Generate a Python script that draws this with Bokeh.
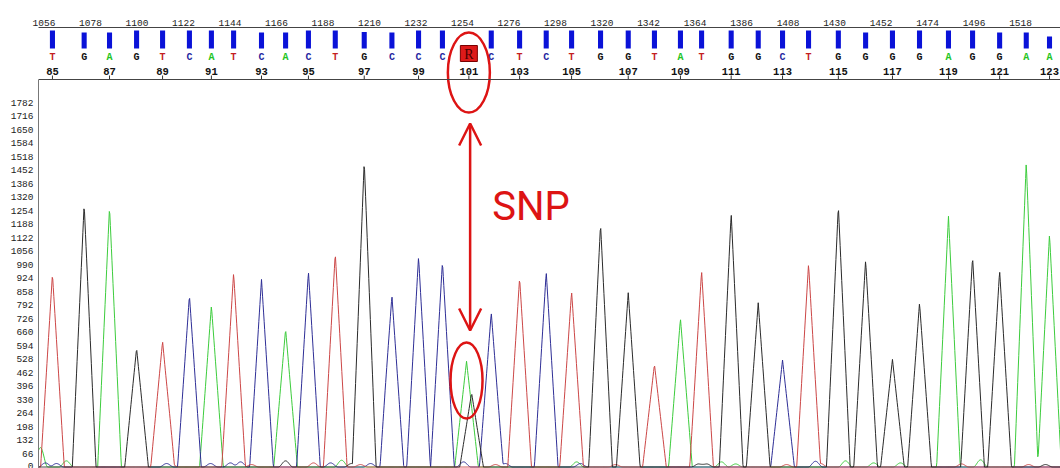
import numpy as np
from bokeh.plotting import figure
from bokeh.models import Range1d, FixedTicker, Span, Arrow, OpenHead, ColumnDataSource
from bokeh.core.properties import value
from bokeh.embed import file_html
from bokeh.resources import INLINE

# ---------------- data ----------------
scan_ticks = list(range(1056, 1541, 22))
signal_ticks = list(range(0, 1783, 66))

base_numbers = list(range(85, 124))
base_calls = list("TGAGTCATCACTGCCCRCTCTGGTATGGCTGGGGAGGAA")
base_scan = [1060.0, 1075.0, 1087.0, 1099.8, 1112.1, 1124.8, 1135.2, 1145.7,
             1158.9, 1170.3, 1181.1, 1193.8, 1207.5, 1220.6, 1233.2, 1244.5,
             1257.0, 1267.6, 1281.0, 1293.6, 1305.6, 1319.3, 1332.4, 1344.8,
             1357.1, 1367.1, 1381.1, 1393.9, 1405.4, 1417.7, 1431.8, 1444.7,
             1457.4, 1470.2, 1483.9, 1495.3, 1508.1, 1520.7, 1531.7]
base_quality = [60, 53, 53, 60, 60, 60, 60, 60, 53, 53, 60, 60, 55, 53, 60, 60,
                0, 60, 60, 60, 60, 60, 60, 60, 60, 60, 60, 60, 60, 60, 60, 53,
                60, 60, 60, 60, 53, 53, 40]

# main peaks per dye channel (scan, signal)
a_scan = [1087.0, 1135.2, 1170.3, 1255.9, 1357.1, 1483.9, 1520.7, 1531.7]
a_height = [1272, 789, 674, 517, 726, 1226, 1490, 1139]
c_scan = [1124.8, 1158.9, 1181.1, 1220.6, 1233.2, 1244.5, 1267.6, 1293.6, 1405.4]
c_height = [839, 917, 956, 837, 1028, 1003, 755, 954, 523]
g_scan = [1075.0, 1099.8, 1207.5, 1258.3, 1319.3, 1332.4, 1381.1, 1393.9,
          1431.8, 1444.7, 1457.4, 1470.2, 1495.3, 1508.1]
g_height = [1285, 580, 1495, 361, 1187, 852, 1241, 803, 1276, 1012, 526, 803, 1027, 960]
t_scan = [1060.0, 1112.1, 1145.7, 1193.8, 1281.0, 1305.6, 1344.8, 1367.1, 1417.7]
t_height = [944, 615, 949, 1046, 925, 858, 502, 959, 993]

# small baseline bumps per channel (scan, signal)
a_noise_scan = [1054.3, 1066.6, 1196.8, 1308.0, 1376.5, 1383.2, 1435.2, 1448.5, 1461.2, 1499.1]
a_noise_height = [95, 30, 33, 25, 25, 15, 30, 20, 20, 35]
c_noise_scan = [1056.7, 1061.9, 1114.0, 1134.8, 1144.2, 1149.0, 1191.6, 1210.5,
                1217.6, 1254.5, 1274.3, 1309.8, 1421.0]
c_noise_height = [20, 17, 17, 17, 20, 25, 20, 17, 17, 25, 17, 17, 28]
g_noise_scan = [1170.3, 1201.5, 1365.7, 1369.5, 1529.8]
g_noise_height = [30, 17, 15, 15, 12]
t_noise_scan = [1116.3, 1154.2, 1183.5, 1205.7, 1269.6, 1326.4, 1407.3, 1423.4, 1490.1, 1521.8]
t_noise_height = [12, 12, 20, 12, 12, 12, 12, 17, 15, 12]

# ---------------- layout / style ----------------
X0, X1 = 1053.4, 1536.9
FIG_W, FIG_H = 1060, 468
FRAME_LEFT, FRAME_TOP = 38, 27
FRAME_H = FIG_H - FRAME_TOP
ZERO_PX = 439.5        # signal 0, px below frame top
TOPLBL_PX = 75         # signal 1782, px below frame top
K = (ZERO_PX - TOPLBL_PX) / 1782.0
Y0 = -(FRAME_H - ZERO_PX) / K
Y1 = ZERO_PX / K

BAR_BOTTOM, BAR_SCALE = 21, 0.3
LETTER_Y, BOX_Y, NUM_Y, TICK_Y0, RULE_Y = 30, 26, 44, 48, 52
PEAK_HW, NOISE_HW = 5.6, 3.5
RED = "#dd1414"

dye_color = {"A": "#3ccc3c", "C": "#2e2e96", "G": "#2a2a2a", "T": "#cc4646"}
call_color = {"A": "#22c422", "C": "#1f1f9f", "G": "#111111", "T": "#c41f1f"}

p = figure(width=FIG_W, height=FIG_H, x_range=Range1d(X0, X1), y_range=Range1d(Y0, Y1),
           x_axis_location="above", toolbar_location=None, output_backend="svg",
           min_border_left=FRAME_LEFT, min_border_right=0, min_border_top=FRAME_TOP,
           min_border_bottom=0, outline_line_color=None, background_fill_color="white")
p.grid.visible = False
p.extra_y_ranges = {"hdr": Range1d(FRAME_H, 0)}

ya = p.yaxis[0]
ya.ticker = FixedTicker(ticks=signal_ticks)
ya.bounds = (Y0, (ZERO_PX - RULE_Y) / K)
ya.major_tick_out = 0
ya.major_tick_in = 0
ya.minor_tick_out = 0
ya.major_label_standoff = 5
ya.major_label_text_font = "Liberation Mono"
ya.major_label_text_font_size = "9.5px"
ya.major_label_text_color = "#222222"
ya.axis_line_color = "#777777"

xa = p.xaxis[0]
xa.ticker = FixedTicker(ticks=scan_ticks)
xa.major_tick_out = 0
xa.major_tick_in = 0
xa.minor_tick_out = 0
xa.major_label_standoff = 2
xa.major_label_text_font = "Liberation Mono"
xa.major_label_text_font_size = "9.5px"
xa.major_label_text_color = "#222222"
xa.axis_line_color = "#444444"

# ---------------- traces ----------------
xs = np.arange(X0, X1 + 0.25, 0.25)


def trace(pk_s, pk_h, nz_s, nz_h):
    y = np.zeros_like(xs)
    for s, h in zip(pk_s, pk_h):
        y += h * np.clip(1 - np.abs(xs - s) / PEAK_HW, 0, None)
    for s, h in zip(nz_s, nz_h):
        d = np.abs(xs - s)
        y += np.where(d < NOISE_HW, h * 0.5 * (1 + np.cos(np.pi * d / NOISE_HW)), 0)
    return y


channels = [("A", a_scan, a_height, a_noise_scan, a_noise_height),
            ("C", c_scan, c_height, c_noise_scan, c_noise_height),
            ("T", t_scan, t_height, t_noise_scan, t_noise_height),
            ("G", g_scan, g_height, g_noise_scan, g_noise_height)]
for dye, ps, ph, ns, nh in channels:
    p.line(xs, trace(ps, ph, ns, nh), line_color=dye_color[dye], line_width=1,
           line_join="miter")

# ---------------- header: quality bars, calls, base numbers ----------------
bars = ColumnDataSource(dict(x=base_scan,
                             top=[BAR_BOTTOM - q * BAR_SCALE for q in base_quality],
                             bottom=[BAR_BOTTOM] * len(base_scan)))
p.vbar(x="x", top="top", bottom="bottom", width=2.4, source=bars, y_range_name="hdr",
       fill_color="#0a12d8", line_color=None)

idx = [i for i, b in enumerate(base_calls) if b in call_color]
calls = ColumnDataSource(dict(x=[base_scan[i] for i in idx],
                              y=[LETTER_Y] * len(idx),
                              t=[base_calls[i] for i in idx],
                              c=[call_color[base_calls[i]] for i in idx]))
p.text(x="x", y="y", text="t", text_color="c", source=calls, y_range_name="hdr",
       text_align="center", text_baseline="middle", text_font=value("Liberation Mono"),
       text_font_style="bold", text_font_size="10px")

amb = [i for i, b in enumerate(base_calls) if b not in call_color]
amb_x = [base_scan[i] for i in amb]
p.rect(x=amb_x, y=[BOX_Y] * len(amb), width=17, height=16, width_units="screen",
       height_units="screen", y_range_name="hdr", fill_color="#dd1a1a",
       line_color="#7a0000", line_width=1)
p.text(x=amb_x, y=[BOX_Y + 1] * len(amb), text=[base_calls[i] for i in amb],
       y_range_name="hdr", text_align="center", text_baseline="middle",
       text_font=value("Liberation Serif"), text_font_size="14px", text_color="#4a0000")

odd = [i for i, n in enumerate(base_numbers) if n % 2 == 1]
odd_x = [base_scan[i] for i in odd]
p.text(x=odd_x, y=[NUM_Y] * len(odd), text=[str(base_numbers[i]) for i in odd],
       y_range_name="hdr", text_align="center", text_baseline="middle",
       text_font=value("Liberation Mono"), text_font_style="bold", text_font_size="10.5px",
       text_color="#111111")
p.segment(x0=odd_x, y0=[TICK_Y0] * len(odd), x1=odd_x, y1=[RULE_Y] * len(odd),
          y_range_name="hdr", line_color="#333333", line_width=1)
p.add_layout(Span(location=RULE_Y, dimension="width", y_range_name="hdr",
                  line_color="#444444", line_width=1))

# ---------------- hand-drawn SNP annotation ----------------
snp_i = amb[0]
snp_x = base_scan[snp_i]
p.ellipse(x=[snp_x], y=[45], width=42, height=80, width_units="screen",
          height_units="screen", y_range_name="hdr", fill_color=None,
          line_color=RED, line_width=2.5)
p.add_layout(Arrow(x_start=snp_x + 0.6, y_start=96, x_end=snp_x + 0.6, y_end=303,
                   y_range_name="hdr", line_color=RED, line_width=2.5,
                   start=OpenHead(size=22, line_color=RED, line_width=2.5),
                   end=OpenHead(size=22, line_color=RED, line_width=2.5)))
p.text(x=[snp_x + 0.6], y=[179], text=["SNP"], x_offset=22, y_range_name="hdr",
       text_align="left", text_baseline="middle",
       text_font=value("Roboto"), text_font_size="40px", text_color=RED)
p.ellipse(x=[a_scan[3]], y=[353], width=32, height=76, width_units="screen",
          height_units="screen", y_range_name="hdr", fill_color=None,
          line_color=RED, line_width=2.5)

open("out.html", "w").write(file_html(p, INLINE))
